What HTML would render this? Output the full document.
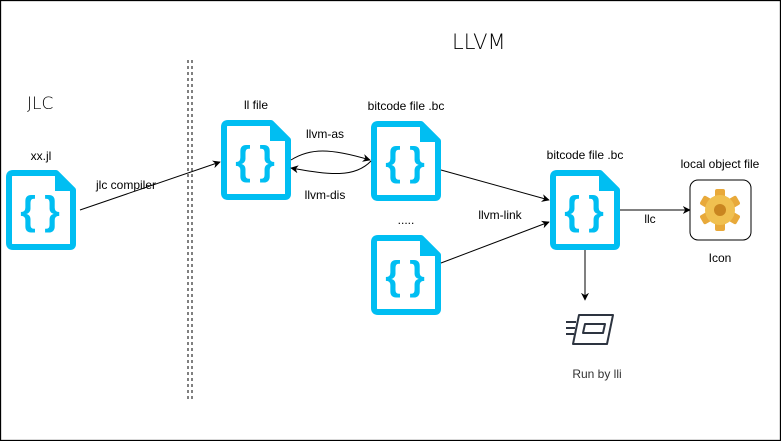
<!DOCTYPE html>
<html><head><meta charset="utf-8"><style>
html,body{margin:0;padding:0;background:#fff;}
svg{display:block;}
text{font-family:"Liberation Sans",sans-serif;font-size:12px;fill:#000;}
</style></head><body>
<svg width="781" height="441" viewBox="0 0 781 441" xmlns="http://www.w3.org/2000/svg">
<defs>
<marker id="ar" viewBox="0 0 10 10" refX="9" refY="5" markerWidth="8" markerHeight="8" orient="auto" markerUnits="userSpaceOnUse">
<path d="M0,0 L10,5 L0,10 L3,5 Z" fill="#000"/></marker>
<g id="doc">
<path d="M7,3 H50 L67,20 V74 Q67,77 64,77 H7 Q3,77 3,73 V7 Q3,3 7,3 Z" fill="#fff" stroke="#00BEF2" stroke-width="6" stroke-linejoin="round"/>
<path d="M50,3 L67,20 H50 Z" fill="#00BEF2" stroke="#00BEF2" stroke-width="2"/>
<text x="22" y="54" text-anchor="middle" style="font-size:40px;font-weight:bold;fill:#00BEF2">{</text>
<text x="46" y="54" text-anchor="middle" style="font-size:40px;font-weight:bold;fill:#00BEF2">}</text>
</g>
</defs>
<rect x="0.5" y="0.5" width="780" height="440" fill="#fff" stroke="#000" stroke-width="1.3"/>
<text x="452" y="49" style="font-size:21px;font-family:'DejaVu Sans',sans-serif;font-weight:200">LLVM</text>
<text x="27" y="109" style="font-size:17px;font-family:'DejaVu Sans',sans-serif;font-weight:200">JLC</text>
<line x1="188" y1="60" x2="188" y2="400" stroke="#000" stroke-dasharray="3,3"/>
<line x1="192" y1="60" x2="192" y2="400" stroke="#000" stroke-dasharray="3,3"/>

<use href="#doc" x="6" y="170"/>
<use href="#doc" x="221" y="120"/>
<use href="#doc" x="371" y="121"/>
<use href="#doc" x="371" y="235"/>
<use href="#doc" x="550" y="170"/>

<text x="41" y="160" text-anchor="middle">xx.jl</text>
<text x="256" y="109" text-anchor="middle">ll file</text>
<text x="406" y="110" text-anchor="middle">bitcode file .bc</text>
<text x="406" y="224" text-anchor="middle">.....</text>
<text x="585" y="159" text-anchor="middle">bitcode file .bc</text>
<text x="720" y="168" text-anchor="middle">local object file</text>
<text x="720" y="262" text-anchor="middle">Icon</text>
<text x="597" y="378" text-anchor="middle" style="fill:#333">Run by lli</text>

<line x1="80" y1="210" x2="220" y2="162" stroke="#000" marker-end="url(#ar)"/>
<text x="126" y="189" text-anchor="middle">jlc compiler</text>
<path d="M291,160 C310,148 330,148 370,160" fill="none" stroke="#000" marker-end="url(#ar)"/>
<text x="325" y="138" text-anchor="middle">llvm-as</text>
<path d="M371,161 C355,178 330,175 291,168" fill="none" stroke="#000" marker-end="url(#ar)"/>
<text x="325" y="199" text-anchor="middle">llvm-dis</text>
<line x1="441" y1="170" x2="549" y2="200" stroke="#000" marker-end="url(#ar)"/>
<line x1="441" y1="263" x2="549" y2="222" stroke="#000" marker-end="url(#ar)"/>
<text x="500" y="219" text-anchor="middle">llvm-link</text>
<line x1="620" y1="210" x2="690" y2="210" stroke="#000" marker-end="url(#ar)"/>
<text x="650" y="223" text-anchor="middle">llc</text>
<line x1="585" y1="250" x2="585" y2="300" stroke="#000" marker-end="url(#ar)"/>

<rect x="690" y="180" width="61" height="60" rx="8" fill="#fff" stroke="#000"/>
<g transform="translate(720,210)">
<g fill="#E8A93A">
<rect x="-5" y="-21" width="10" height="42" rx="2"/>
<rect x="-5" y="-21" width="10" height="42" rx="2" transform="rotate(60)"/>
<rect x="-5" y="-21" width="10" height="42" rx="2" transform="rotate(120)"/>
</g>
<circle r="15" fill="#F0C050"/>
<circle r="6" fill="#C98520"/>
</g>

<g fill="none" stroke="#2d3440" stroke-width="2" stroke-linejoin="round">
<path d="M579,315 H613 L607,344 H573 Z"/>
<path d="M585,324 H605 L603,333 H583 Z"/>
<line x1="566" y1="322" x2="576" y2="322"/>
<line x1="566" y1="328" x2="575" y2="328"/>
<line x1="566" y1="334" x2="574" y2="334"/>
</g>
</svg>
</body></html>
